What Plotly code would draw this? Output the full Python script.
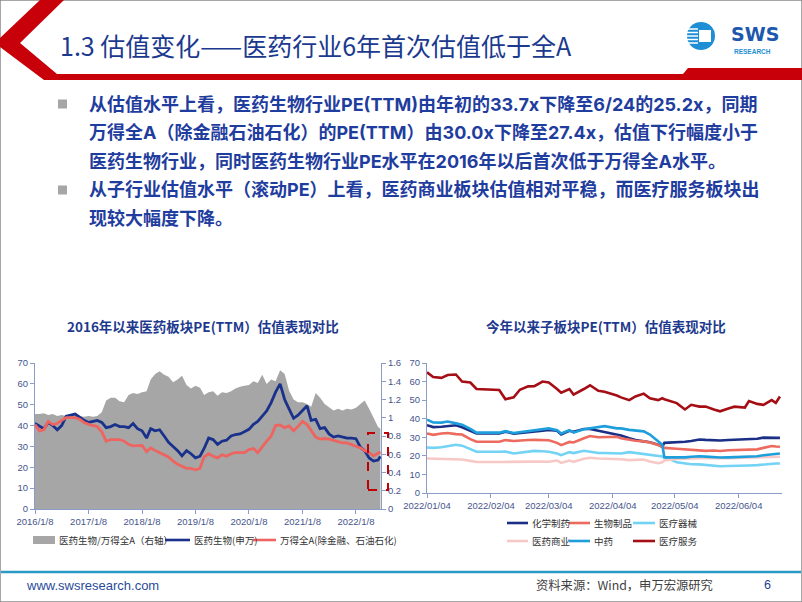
import plotly.graph_objects as go

W, H = 802, 602


def px(x):
    return x / W


def py(y):
    return 1 - y / H


# ---------------- left chart: PE(TTM) since 2016 (monthly reads, 8th of month) ----------------
left_dates = [f"{2016 + m // 12}-{m % 12 + 1:02d}-08" for m in range(78)] + ["2022-06-24"]

pharma_pe = [41, 39.5, 38.5, 41.5, 40, 38, 40, 44.5, 45, 45.5, 44, 42.5,
             41.5, 42, 42.5, 41.5, 39, 39.5, 40.5, 39.5, 39.5, 39, 41, 38.5,
             37.5, 34, 38.5, 37.5, 38, 35, 32, 30, 28, 25.5, 28, 26.5,
             24.5, 25.3, 29, 34, 33.3, 31, 32.5, 33, 35, 35.7, 36, 37,
             38.2, 40.6, 42, 44.5, 47, 51, 56, 60, 52.5, 48, 43.5, 45,
             47.5, 49.5, 42.5, 43, 38.5, 39, 36, 34.5, 35, 34.5, 34, 34,
             33.7, 29.5, 28, 24.5, 23, 23.5, 25.2]

wind_a_pe = [40.5, 37.5, 38, 42, 40.5, 41, 42.5, 43.8, 43.8, 43.8, 43, 41.5,
             40.6, 40, 39.5, 37, 32.5, 33.3, 33.3, 33.3, 32.5, 31, 30.3, 30.5,
             30.5, 27.5, 29.3, 28, 27, 26, 25, 23, 21.5, 20.5, 19.5, 19.5,
             18.8, 19.5, 25, 26.5, 25.3, 24.5, 26, 25.3, 26.5, 27, 26.9, 27,
             28.5, 29, 27, 30, 32.5, 35, 40, 40.3, 39, 39.8, 37.5, 39.5,
             42, 40.5, 37.5, 34.5, 33.5, 33.8, 33.5, 33, 32.5, 31.7, 31.7, 31,
             30.0, 29.3, 28, 27, 25.5, 27, 27.4]

ratio = [1.04, 1.04, 1.05, 1.03, 1.04, 1.02, 1.03, 1.02, 1.02, 1.02, 1.02, 1.01,
         1.02, 1.01, 1.02, 1.06, 1.19, 1.22, 1.22, 1.18, 1.17, 1.25, 1.27, 1.26,
         1.28, 1.29, 1.42, 1.48, 1.51, 1.47, 1.45, 1.39, 1.42, 1.46, 1.36, 1.32,
         1.35, 1.33, 1.25, 1.28, 1.29, 1.24, 1.28, 1.27, 1.29, 1.32, 1.34, 1.35,
         1.36, 1.40, 1.38, 1.47, 1.37, 1.42, 1.40, 1.52, 1.48, 1.30, 1.20, 1.17,
         1.17, 1.15, 1.12, 1.27, 1.22, 1.15, 1.12, 1.08, 1.10, 1.08, 1.10, 1.09,
         1.11, 1.15, 1.19, 1.10, 1.00, 0.90, 0.88]

left_ticks = ["2016-01-08", "2017-01-08", "2018-01-08", "2019-01-08",
              "2020-01-08", "2021-01-08", "2022-01-08"]
left_ticktext = ["2016/1/8", "2017/1/8", "2018/1/8", "2019/1/8",
                 "2020/1/8", "2021/1/8", "2022/1/8"]

# ---------------- right chart: sub-sectors in 2022 ----------------
sub_dates = ["2022-01-04", "2022-01-07", "2022-01-11", "2022-01-14", "2022-01-18", "2022-01-21",
             "2022-01-25", "2022-01-28", "2022-02-08", "2022-02-11", "2022-02-15", "2022-02-18",
             "2022-02-22", "2022-02-25", "2022-03-01", "2022-03-04", "2022-03-08", "2022-03-10",
             "2022-03-14", "2022-03-16", "2022-03-21", "2022-03-24", "2022-03-28", "2022-03-31",
             "2022-04-06", "2022-04-08", "2022-04-12", "2022-04-15", "2022-04-19", "2022-04-22",
             "2022-04-26", "2022-04-28", "2022-04-29", "2022-05-05", "2022-05-09", "2022-05-12",
             "2022-05-16", "2022-05-19", "2022-05-23", "2022-05-26", "2022-05-30", "2022-06-02",
             "2022-06-07", "2022-06-09", "2022-06-13", "2022-06-16", "2022-06-20", "2022-06-22",
             "2022-06-24"]

chem = [36.5, 35.5, 35.7, 36, 36.5, 35.4, 33.5, 32, 32, 33, 32, 32.3,
        32.5, 33, 33.5, 34, 33.5, 31.5, 33.5, 33, 34.5, 34.5, 33.5, 33,
        31.5, 31, 29.5, 28.5, 27.8, 27.3, 26, 25, 27, 27.2, 27.6, 28,
        28.8, 28.6, 28.2, 28.3, 28.5, 28.6, 28.9, 29, 29.2, 29.8, 30, 29.7, 29.7]
bio = [32.1, 31.3, 32, 32.3, 31.7, 31.5, 29, 27.6, 27.6, 28.5, 28, 28.3,
       28.5, 28.6, 28.5, 28.4, 27, 25.8, 27.5, 27.2, 29.5, 30.7, 30, 30.2,
       30.3, 29.5, 28.7, 28.1, 27.8, 27.2, 25.8, 24.5, 24.3, 23.8, 23.5, 23.4,
       23, 22.7, 22.9, 22.6, 23, 23.1, 23.1, 23.2, 23.5, 24.3, 25.3, 25, 24.9]
device = [24.5, 24.3, 24.6, 25.3, 26, 25.5, 23.5, 22.2, 22.2, 22.3, 21.3, 21.8,
          22.3, 22.7, 22.5, 22.2, 21.3, 20.4, 22, 21.5, 22.7, 22.2, 21.5, 21.5,
          21.5, 21.3, 22, 21.6, 21, 20.4, 19.8, 19.6, 19.5, 16.5, 15.7, 15.5,
          15.4, 15, 14.5, 14.4, 14.5, 14.5, 14.6, 14.8, 15, 15.4, 15.8, 15.9, 15.9]
distrib = [18.6, 18.5, 18.6, 18.6, 18.4, 18, 17.3, 16.7, 16.7, 16.8, 16.6, 16.8,
           16.8, 16.9, 16.9, 16.8, 17.5, 16.2, 17.5, 16.8, 18.4, 19, 18.6, 18.6,
           18.5, 18.2, 17.7, 17.9, 18, 17, 16, 16.5, 17.5, 18.3, 18.6, 18.7,
           18.8, 18.8, 18.7, 18.6, 18.8, 18.9, 19, 19.1, 19.2, 19.3, 19.5, 19.5, 19.5]
tcm = [39.5, 38, 37.9, 38.5, 37.5, 36.8, 34.5, 32.5, 32.5, 33.3, 32.3, 32.7,
       33.2, 33.8, 34.2, 34.8, 33.8, 32, 33.8, 32.5, 34.3, 34.8, 35.3, 36,
       34.8, 34.8, 34, 33.6, 33.2, 31.5, 27.5, 26, 19.2, 19.1, 19.2, 19.5,
       19.8, 19.6, 19.1, 19.1, 19.2, 19.3, 19.5, 19.6, 19.8, 20.3, 21, 21.2, 21.3]
service = [65, 62.5, 62, 63.5, 63.8, 60, 59.5, 56, 55.5, 50.5, 51.5, 55.6,
           57.4, 57.5, 60, 59.5, 56, 54, 56, 53, 56, 58, 55, 54.5,
           52.5, 51.5, 50, 52, 53.5, 51, 50, 51, 50.5, 48.4, 45, 47.5,
           46.5, 46.5, 45, 44, 45.5, 46.5, 46, 49.5, 48, 47.5, 50, 48.5, 52]

sub_names = ["化学制药", "生物制品", "医疗器械", "医药商业", "中药", "医疗服务"]
sub_colors = ["#1B2F87", "#EC6A5E", "#72D3F5", "#F7C9C6", "#1E9FDB", "#A50E14"]
sub_values = [chem, bio, device, distrib, tcm, service]

right_ticks = ["2022-01-04", "2022-02-04", "2022-03-04", "2022-04-04", "2022-05-04", "2022-06-04"]

NAVY = "#1E3A8E"
TICK = "#46568C"
AXIS = "#8C9CC8"
CJK = "Noto Sans CJK SC"
MIX = "Inter, Noto Sans CJK SC"
LAT = "Liberation Sans, Arial"

fig = go.Figure()

fig.add_trace(go.Scatter(x=left_dates, y=ratio, yaxis="y", xaxis="x", mode="lines",
                         line=dict(width=0, color="#A6A6A6"), fill="tozeroy",
                         fillcolor="#A6A6A6", showlegend=False))
fig.add_trace(go.Scatter(x=left_dates, y=pharma_pe, yaxis="y2", xaxis="x", mode="lines",
                         line=dict(width=2.8, color="#1A318C"), showlegend=False))
fig.add_trace(go.Scatter(x=left_dates, y=wind_a_pe, yaxis="y2", xaxis="x", mode="lines",
                         line=dict(width=2.8, color="#EE6460"), showlegend=False))

for name, col, vals in zip(sub_names, sub_colors, sub_values):
    fig.add_trace(go.Scatter(x=sub_dates, y=vals, xaxis="x2", yaxis="y3", mode="lines",
                             line=dict(width=2.6, color=col), name=name, showlegend=False))

tickfont = dict(family=LAT, size=9.5, color=TICK)
axis_common = dict(showgrid=False, zeroline=False, showline=True, linecolor=AXIS,
                   linewidth=1, ticks="outside", ticklen=4, tickcolor=AXIS, tickfont=tickfont,
                   automargin=False)

fig.update_layout(
    width=W, height=H, margin=dict(l=0, r=0, t=0, b=0, autoexpand=False),
    paper_bgcolor="white", plot_bgcolor="rgba(0,0,0,0)",
    xaxis=dict(domain=[px(35), px(381)], type="date", range=["2016-01-08", "2022-06-28"],
               tickvals=left_ticks, ticktext=left_ticktext, anchor="y", **axis_common),
    yaxis=dict(domain=[py(509), py(363)], range=[0, 1.6], dtick=0.2, side="right",
               anchor="x", tickformat="~g", **axis_common),
    yaxis2=dict(range=[0, 70], dtick=10, overlaying="y", side="left", anchor="x",
                **axis_common),
    xaxis2=dict(domain=[px(427), px(782)], type="date", range=["2022-01-04", "2022-06-25"],
                tickvals=right_ticks, tickformat="%Y/%m/%d", anchor="y3", **axis_common),
    yaxis3=dict(domain=[py(493), py(363)], range=[0, 70], dtick=10, anchor="x2",
                **axis_common),
)

shapes = []
ann = []


def note(text, x, y, size, color, family=CJK, xanchor="left"):
    ann.append(dict(text=text, x=px(x), y=py(y), xref="paper", yref="paper",
                    xanchor=xanchor, yanchor="middle", showarrow=False,
                    font=dict(family=family, size=size, color=color)))


def path(points):
    return "M " + " L ".join(f"{px(x)},{py(y)}" for x, y in points) + " Z"


# slide frame
shapes.append(dict(type="rect", xref="paper", yref="paper", x0=0, x1=1, y0=0, y1=1,
                   line=dict(color="#8A8A8A", width=1.5), layer="above"))

# header red chevron + underline
shapes.append(dict(type="path", xref="paper", yref="paper", fillcolor="#C8000A", line=dict(width=0),
                   path=path([(40, 0), (64, 0), (20, 43), (57, 74), (802, 74), (802, 80),
                              (44, 80), (0, 47), (0, 38)])))
shapes.append(dict(type="path", xref="paper", yref="paper", fillcolor="#C8000A", line=dict(width=0),
                   path=path([(688, 68), (802, 68), (802, 80), (678, 80)])))

note("1.3 估值变化——医药行业6年首次估值低于全A", 58, 45, 25, "#1B3A8F")

# logo
shapes.append(dict(type="circle", xref="paper", yref="paper", x0=px(687), x1=px(715),
                   y0=py(50), y1=py(22), fillcolor="#1E8FD5", line=dict(width=0)))
shapes.append(dict(type="rect", xref="paper", yref="paper", x0=px(699), x1=px(711),
                   y0=py(42), y1=py(30), fillcolor="white", line=dict(width=0)))
for yy in [29, 32.5, 36, 39.5, 43]:
    shapes.append(dict(type="line", xref="paper", yref="paper", x0=px(686), x1=px(698),
                       y0=py(yy), y1=py(yy), line=dict(color="white", width=1.5)))
note("<b>SWS</b>", 729, 34, 19, "#1C58AE", family="DejaVu Sans")
note("<b>RESEARCH</b>", 732, 51, 6.5, "#1E8FD5", family=LAT)

# bullets
bullet_lines = [
    (104, "从估值水平上看，医药生物行业PE(TTM)由年初的33.7x下降至6/24的25.2x，同期"),
    (133, "万得全A（除金融石油石化）的PE(TTM）由30.0x下降至27.4x，估值下行幅度小于"),
    (161, "医药生物行业，同时医药生物行业PE水平在2016年以后首次低于万得全A水平。"),
    (190, "从子行业估值水平（滚动PE）上看，医药商业板块估值相对平稳，而医疗服务板块出"),
    (218, "现较大幅度下降。"),
]
for yy, txt in bullet_lines:
    note(f"<b>{txt}</b>", 87, yy, 18, "#1F3D9E", family=MIX)
for yy in [104, 190]:
    shapes.append(dict(type="rect", xref="paper", yref="paper", x0=px(58), x1=px(67),
                       y0=py(yy + 4.5), y1=py(yy - 4.5), fillcolor="#A6A6A6", line=dict(width=0)))

# chart titles
note("<b>2016年以来医药板块PE(TTM）估值表现对比</b>", 203, 326, 13.5, NAVY, xanchor="center")
note("<b>今年以来子板块PE(TTM）估值表现对比</b>", 606, 326, 13.5, NAVY, xanchor="center")

# dashed highlight box
shapes.append(dict(type="rect", xref="paper", yref="paper", x0=px(368), x1=px(388),
                   y0=py(490), y1=py(433), line=dict(color="#C00000", width=2, dash="dash")))

# legends
shapes.append(dict(type="rect", xref="paper", yref="paper", x0=px(33), x1=px(55),
                   y0=py(544), y1=py(536), fillcolor="#A6A6A6", line=dict(width=0)))
note("医药生物/万得全A（右轴）", 57, 540, 9.5, "#333333")
for x0, x1, col, txt in [(165, 190, "#1A318C", "医药生物(申万)"),
                         (253, 276, "#EE6460", "万得全A(除金融、石油石化)")]:
    shapes.append(dict(type="line", xref="paper", yref="paper", x0=px(x0), x1=px(x1),
                       y0=py(540), y1=py(540), line=dict(color=col, width=2.6)))
    note(txt, x1 + 2, 540, 9.5, "#333333")

leg_pos = [(507, 528, 523), (569, 590, 523), (633, 655, 523),
           (507, 528, 541), (569, 590, 541), (633, 655, 541)]
for (x0, x1, yy), col, txt in zip(leg_pos, sub_colors, sub_names):
    shapes.append(dict(type="line", xref="paper", yref="paper", x0=px(x0), x1=px(x1),
                       y0=py(yy), y1=py(yy), line=dict(color=col, width=2.6)))
    note(txt, x1 + 2, yy, 9.5, "#333333")

# footer
shapes.append(dict(type="line", xref="paper", yref="paper", x0=px(1), x1=px(801),
                   y0=py(572), y1=py(572), line=dict(color="#2A9BC4", width=2.5)))
note("www.swsresearch.com", 24, 585, 13, "#2A4B9B", family=LAT)
note("资料来源：Wind，申万宏源研究", 534, 585, 12.3, "#404040")
note("6", 762, 585, 12.5, "#1F3D99", family=LAT)

fig.update_layout(shapes=shapes, annotations=ann)
# the page body has a default 8px margin; drop it so the figure sits at the window's corner
fig.write_html("out.html", config={"displayModeBar": False},
               post_script="document.body.style.margin='0px';")
